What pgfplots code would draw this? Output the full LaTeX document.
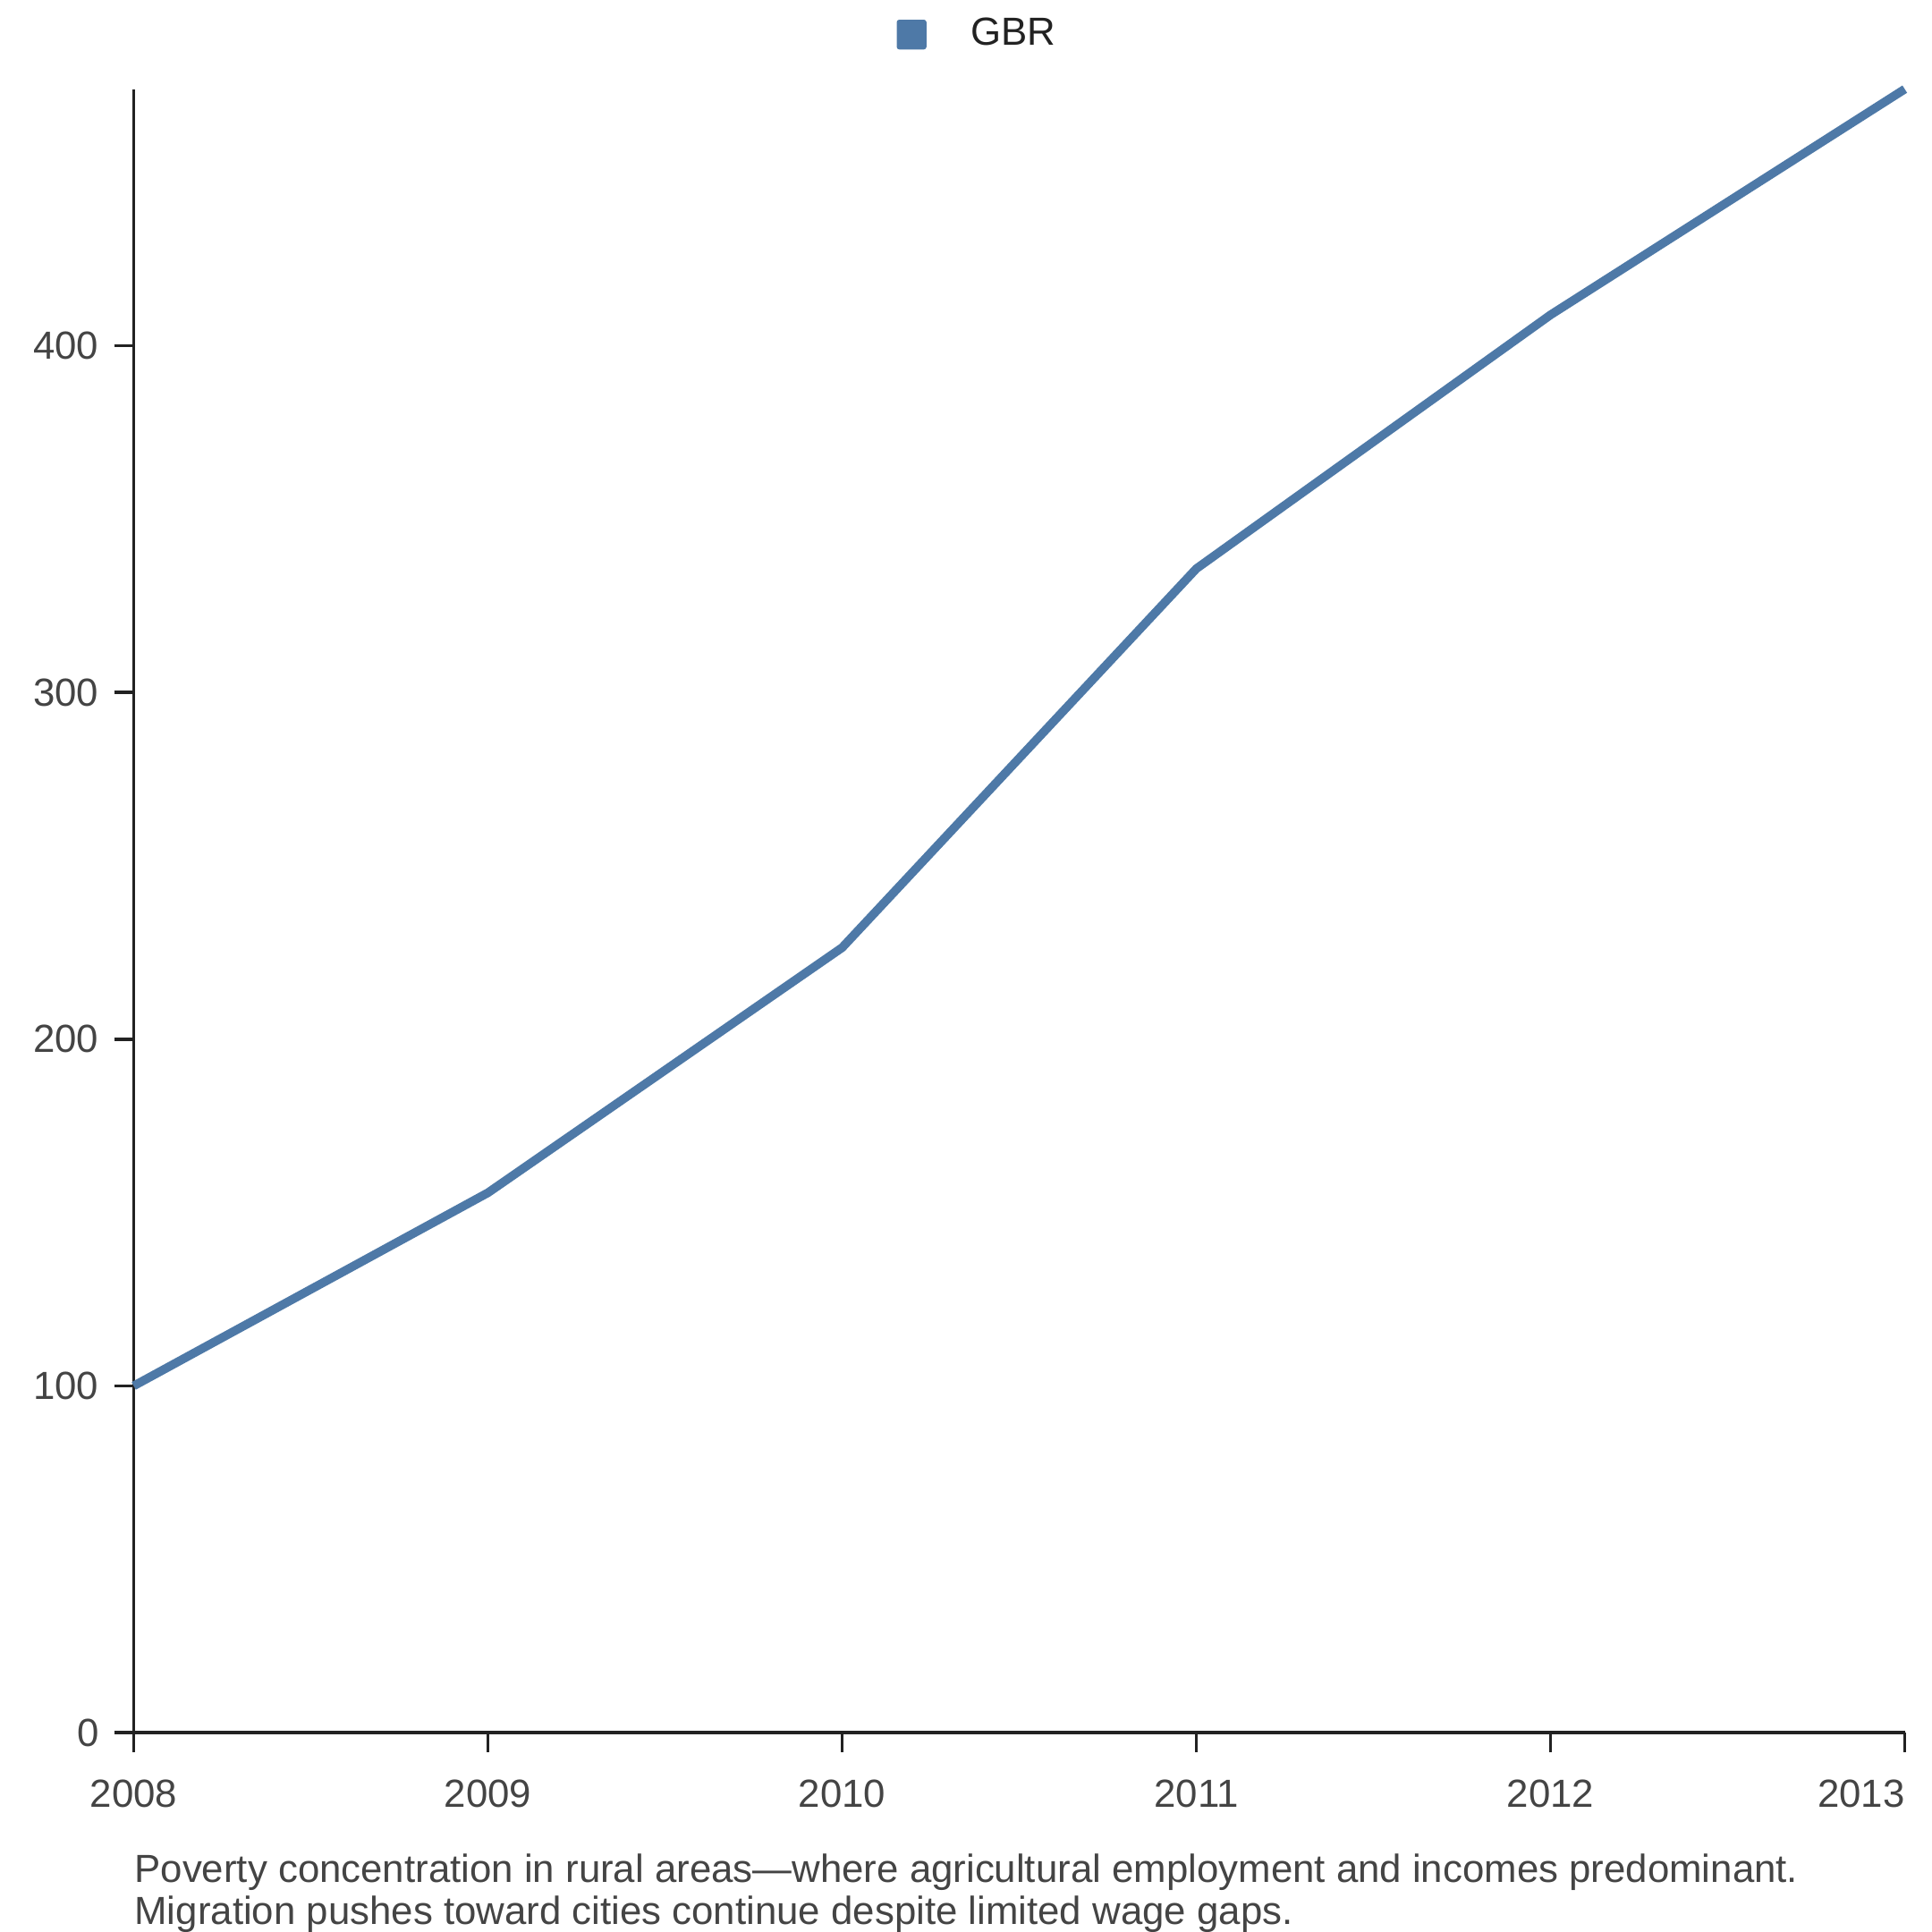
\documentclass[border=0pt]{standalone}
\usepackage{pgfplots}
\pgfplotsset{compat=1.18}
\usepackage{fontspec}
\setmainfont{Liberation Sans}
\definecolor{lineblue}{RGB}{78,121,167}
\definecolor{axisgray}{RGB}{34,34,34}
\definecolor{labelgray}{RGB}{68,68,68}
\begin{document}
\begin{tikzpicture}
\begin{axis}[
  scale only axis,
  width=143mm, height=132.7mm,
  xmin=2008, xmax=2013,
  ymin=0, ymax=474,
  axis lines*=left,
  axis line style={axisgray, line width=0.25mm},
  xtick={2008,2009,2010,2011,2012,2013},
  xticklabels={2008,2009,2010,2011,2012,\makebox[0pt][r]{2013}},
  ytick={0,100,200,300,400},
  tick style={axisgray, line width=0.25mm},
  tick align=outside,
  major tick length=1.6mm,
  /pgf/number format/1000 sep={},
  /pgf/number format/assume math mode=true,
  tick label style={font=\fontsize{9pt}{10.8pt}\selectfont, text=labelgray},
  xticklabel style={yshift=-1.0mm},
  yticklabel style={xshift=0mm},
  clip=false,
  legend style={at={(rel axis cs:0.4308,1.0332)}, anchor=west, draw=none, fill=none,
    inner sep=0pt, outer sep=0pt,
    font=\fontsize{9pt}{10.8pt}\selectfont, text=axisgray,
    /tikz/every even column/.append style={column sep=0mm}},
  legend image code/.code={\fill[lineblue, draw=none, rounded corners=0.2mm] (0mm,-1.2mm) rectangle (2.4mm,1.2mm);},
  legend cell align=left,
]
\addplot[lineblue, line width=0.7mm, line join=round] coordinates {
  (2008,100) (2009,155.7) (2010,226.4) (2011,335.7) (2012,408.9) (2013,474)
};
\addlegendentry{\hspace{2.9mm}GBR}
\end{axis}
\node[anchor=north west, align=left, inner sep=0pt, text=labelgray,
  font=\fontsize{9pt}{9.7pt}\selectfont] at (0mm,-9.7mm)
  {Poverty concentration in rural areas---where agricultural employment and incomes predominant.\\
   Migration pushes toward cities continue despite limited wage gaps.};
\pgfresetboundingbox
\useasboundingbox (-10.8mm,-16.1mm) rectangle (145.2mm,139.9mm);
\end{tikzpicture}
\end{document}
